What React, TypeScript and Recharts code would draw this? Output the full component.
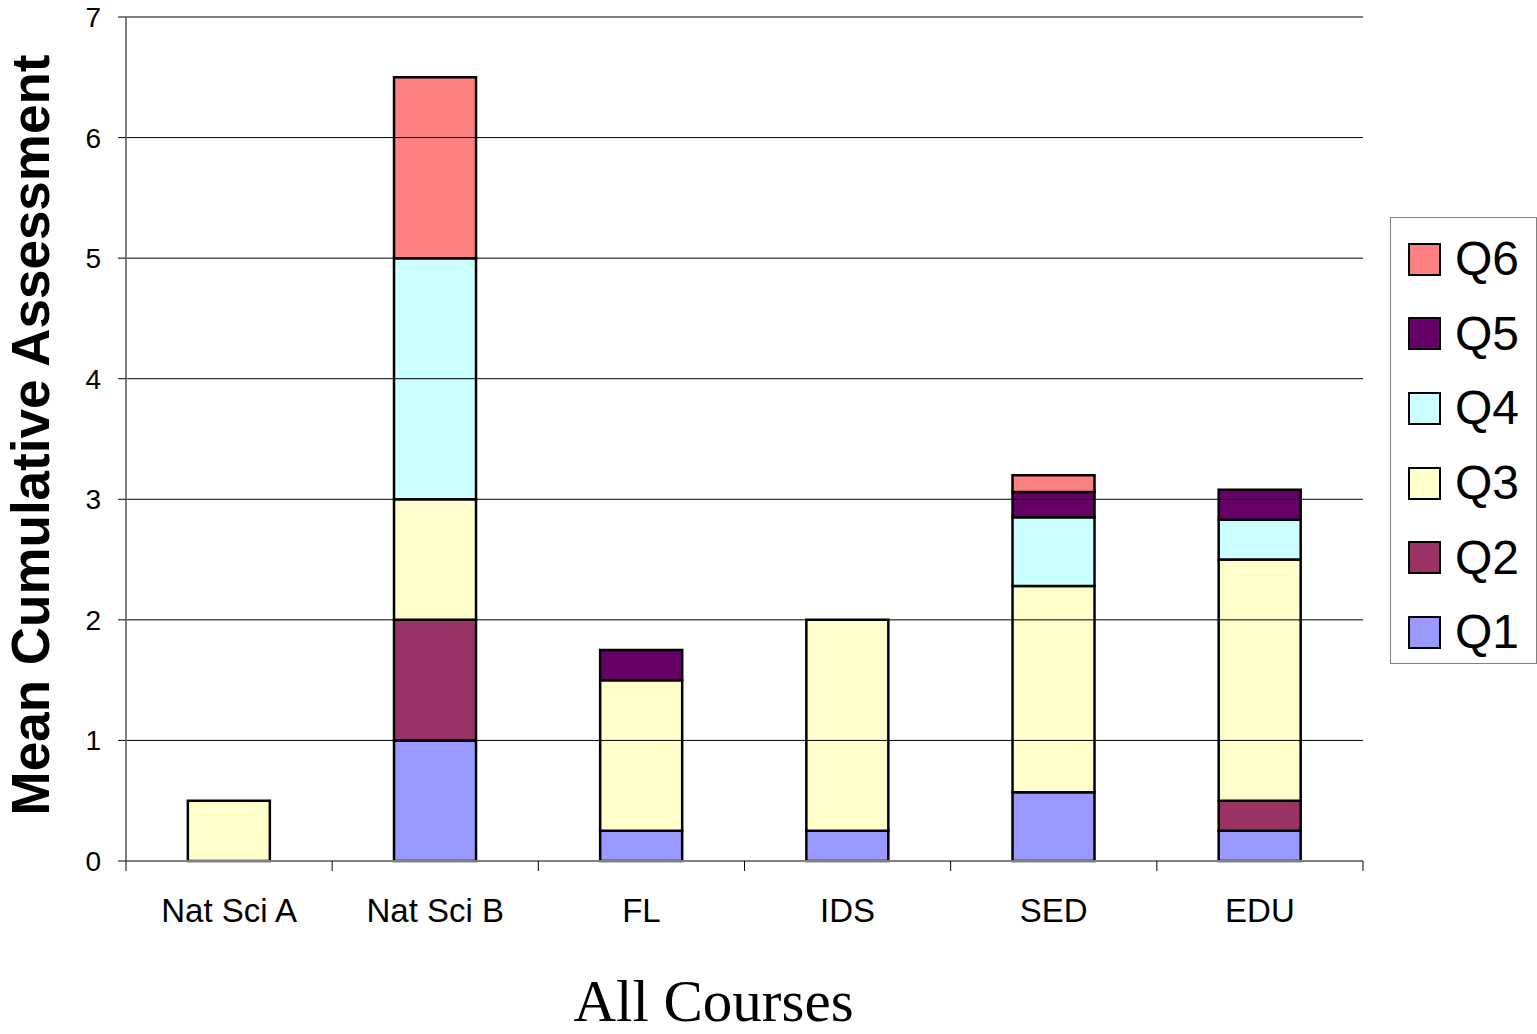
import React from 'react';
import { BarChart, Bar, XAxis, YAxis, CartesianGrid, Legend, ReferenceLine } from 'recharts';

const categories = ['Nat Sci A', 'Nat Sci B', 'FL', 'IDS', 'SED', 'EDU'];
const q1 = [0, 1, 0.25, 0.25, 0.57, 0.25];
const q2 = [0, 1, 0, 0, 0, 0.25];
const q3 = [0.5, 1, 1.25, 1.75, 1.71, 2.0];
const q4 = [0, 2, 0, 0, 0.57, 0.33];
const q5 = [0, 0, 0.25, 0, 0.21, 0.25];
const q6 = [0, 1.5, 0, 0, 0.14, 0];
const yTicks = [0, 1, 2, 3, 4, 5, 6, 7];
const gridValues = [1, 2, 3, 4, 5, 6];

const seriesKeys = ['Q1', 'Q2', 'Q3', 'Q4', 'Q5', 'Q6'];
const seriesColors = ['#9999FF', '#993366', '#FFFFCC', '#CCFFFF', '#660066', '#FF8080'];
const seriesValues = [q1, q2, q3, q4, q5, q6];

const data = categories.map((name, i) => {
  const row: any = { name };
  seriesKeys.forEach((k, j) => {
    row[k] = seriesValues[j][i];
  });
  return row;
});

const SANS = '"Liberation Sans", Arial, sans-serif';
const SERIF = '"Liberation Serif", "Times New Roman", serif';

const XTick = (props: any) => {
  const { x, y, payload, index, width, visibleTicksCount } = props;
  const off = payload && payload.offset ? payload.offset : width / (2 * (visibleTicksCount || categories.length));
  return (
    <g>
      <line x1={x - off} x2={x - off} y1={y} y2={y + 10} stroke="#000" strokeWidth={1} />
      {index === categories.length - 1 && (
        <line x1={x + off} x2={x + off} y1={y} y2={y + 10} stroke="#000" strokeWidth={1} />
      )}
      <text x={x} y={y + 61} textAnchor="middle" fontSize={33} fontFamily={SANS} fill="#000">
        {payload.value}
      </text>
    </g>
  );
};

const renderLegend = () => {
  const items = seriesKeys.map((k, i) => ({ k, c: seriesColors[i] })).reverse();
  return (
    <div
      style={{
        boxSizing: 'border-box',
        width: 147,
        height: 447,
        border: '1px solid #808080',
        background: '#fff',
        paddingTop: 4,
      }}
    >
      {items.map((it) => (
        <div key={it.k} style={{ display: 'flex', alignItems: 'center', height: 74.6, paddingLeft: 17 }}>
          <div
            style={{
              boxSizing: 'border-box',
              width: 33,
              height: 33,
              background: it.c,
              border: '2px solid #000',
              marginRight: 14,
            }}
          />
          <span style={{ fontFamily: SANS, fontSize: 48, color: '#000', lineHeight: 1 }}>{it.k}</span>
        </div>
      ))}
    </div>
  );
};

const YTitle = (props: any) => {
  const vb = props.viewBox || {};
  const cy = vb.y + vb.height / 2 - 4;
  const bx = 49;
  return (
    <text
      x={bx}
      y={cy}
      transform={`rotate(-90, ${bx}, ${cy})`}
      textAnchor="middle"
      fontSize={53}
      fontWeight="bold"
      fontFamily={SANS}
      fill="#000"
    >
      Mean Cumulative Assessment
    </text>
  );
};

const XTitle = (props: any) => {
  const vb = props.viewBox || {};
  const cx = vb.x + vb.width / 2 - 31;
  return (
    <text x={cx} y={1021} textAnchor="middle" fontSize={59} fontFamily={SERIF} fill="#000">
      All Courses
    </text>
  );
};

export default function App() {
  return (
    <div style={{ position: 'absolute', left: 0, top: 0, width: 1537, height: 1034, background: '#fff' }}>
      <BarChart
        width={1537}
        height={1034}
        data={data}
        margin={{ top: 17, right: 27, bottom: 113, left: 66 }}
        barCategoryGap="30%"
      >
        <CartesianGrid horizontal={false} vertical={false} />
        {gridValues.map((v) => (
          <ReferenceLine key={v} y={v} yAxisId="left" stroke="#000" strokeWidth={1} />
        ))}
        <ReferenceLine y={7} yAxisId="left" stroke="#808080" strokeWidth={2} />
        <XAxis
          dataKey="name"
          height={60}
          tickSize={0}
          tickMargin={0}
          tickLine={false}
          axisLine={{ stroke: '#808080', strokeWidth: 2 }}
          tick={<XTick />}
          interval={0}
          label={<XTitle />}
        />
        <YAxis
          yAxisId="left"
          width={60}
          domain={[0, 7]}
          ticks={yTicks}
          interval={0}
          tickSize={8}
          tickMargin={17}
          tickLine={{ stroke: '#000', strokeWidth: 1 }}
          axisLine={{ stroke: '#808080', strokeWidth: 2 }}
          tick={{ fontSize: 28, fontFamily: SANS, fill: '#000' }}
          label={<YTitle />}
        />
        <YAxis
          yAxisId="right"
          orientation="right"
          width={0}
          domain={[0, 7]}
          tick={false}
          tickLine={false}
          axisLine={{ stroke: '#808080', strokeWidth: 2 }}
        />
        <Legend
          layout="vertical"
          align="right"
          verticalAlign="top"
          content={renderLegend}
          wrapperStyle={{ left: 1390, top: 217, width: 147, height: 447 }}
        />
        {seriesKeys.map((k, i) => (
          <Bar
            key={k}
            dataKey={k}
            stackId="a"
            yAxisId="left"
            fill={seriesColors[i]}
            stroke="#000"
            strokeWidth={2.5}
            isAnimationActive={false}
          />
        ))}
      </BarChart>
    </div>
  );
}
